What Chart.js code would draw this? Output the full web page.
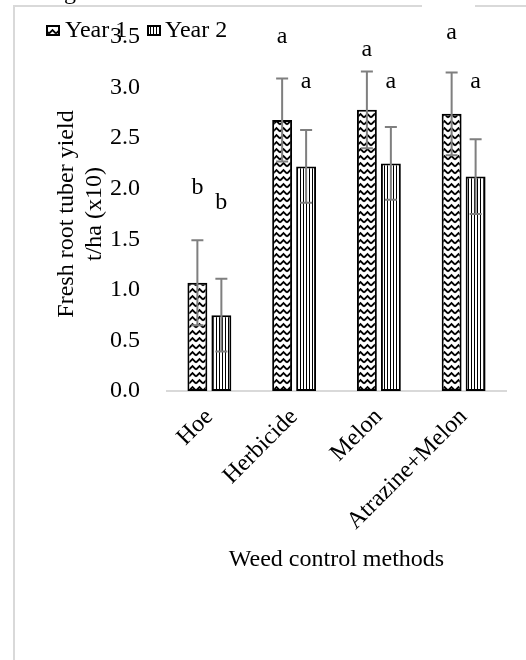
<!DOCTYPE html>
<html>
<head>
<meta charset="utf-8">
<script src="https://cdn.jsdelivr.net/npm/chart.js@4"></script>
<style>
  html, body { margin: 0; padding: 0; background: #fff; }
  #wrap { width: 526px; height: 660px; }
</style>
</head>
<body>
<div id="wrap"><canvas id="chart" width="526" height="660"></canvas></div>
<script>
// data
const methods = ["Hoe", "Herbicide", "Melon", "Atrazine+Melon"];
const seriesNames = ["Year 1", "Year 2"];
const year1 = [1.07, 2.68, 2.78, 2.74];
const year2 = [0.75, 2.22, 2.25, 2.12];
const year1Err = [0.42, 0.41, 0.38, 0.41];
const year2Err = [0.36, 0.36, 0.36, 0.37];
// significance letters and the height (in axis units) where they sit
const year1Letters = ["b", "a", "a", "a"];
const year2Letters = ["b", "a", "a", "a"];
const year1LetterY = [2.01, 3.50, 3.37, 3.54];
const year2LetterY = [1.86, 3.06, 3.06, 3.06];
const yTicks = [0, 0.5, 1, 1.5, 2, 2.5, 3, 3.5];

const SERIF = "'Liberation Serif', 'Times New Roman', serif";
const FS = 24;

function chevronPattern() {
    const c = document.createElement("canvas");
    c.width = 7; c.height = 7;
    const g = c.getContext("2d");
    g.fillStyle = "#fff";
    g.fillRect(0, 0, 7, 7);
    g.strokeStyle = "#000";
    g.lineWidth = 1.8;
    g.beginPath();
    g.moveTo(0, 5.5);
    g.lineTo(3.5, 2);
    g.lineTo(7, 5.5);
    g.stroke();
    return g.createPattern(c, "repeat");
}

function stripePattern() {
    const c = document.createElement("canvas");
    c.width = 3; c.height = 3;
    const g = c.getContext("2d");
    g.fillStyle = "#fff";
    g.fillRect(0, 0, 3, 3);
    g.fillStyle = "#000";
    g.fillRect(0, 0, 1, 3);
    return g.createPattern(c, "repeat");
}

const fills = [chevronPattern(), stripePattern()];

const errorBarsPlugin = {
    id: "errorBars",
    afterDatasetsDraw(chart) {
        const ctx = chart.ctx;
        const y = chart.scales.y;
        chart.data.datasets.forEach((ds, i) => {
            const meta = chart.getDatasetMeta(i);
            meta.data.forEach((bar, j) => {
                const v = ds.data[j], e = ds.err[j];
                const top = y.getPixelForValue(v + e);
                const bot = y.getPixelForValue(v - e);
                ctx.save();
                ctx.strokeStyle = "#7f7f7f";
                ctx.lineWidth = 2;
                ctx.beginPath();
                ctx.moveTo(bar.x, top); ctx.lineTo(bar.x, bot);
                ctx.moveTo(bar.x - 6, top); ctx.lineTo(bar.x + 6, top);
                ctx.moveTo(bar.x - 6, bot); ctx.lineTo(bar.x + 6, bot);
                ctx.stroke();
                // letters
                ctx.fillStyle = "#000";
                ctx.font = FS + "px " + SERIF;
                ctx.textAlign = "center";
                ctx.textBaseline = "middle";
                ctx.fillText(ds.letters[j], bar.x, y.getPixelForValue(ds.letterY[j]));
                ctx.restore();
            });
        });
    }
};

const decorPlugin = {
    id: "decor",
    afterDraw(chart) {
        const ctx = chart.ctx;
        ctx.save();
        // page frame
        ctx.strokeStyle = "#d9d9d9";
        ctx.lineWidth = 2;
        ctx.beginPath();
        ctx.moveTo(14, 660); ctx.lineTo(14, 6); ctx.lineTo(422, 6);
        ctx.moveTo(475, 6); ctx.lineTo(526, 6);
        ctx.stroke();
        // clipped caption above the frame
        ctx.fillStyle = "#000";
        ctx.font = FS + "px " + SERIF;
        ctx.textBaseline = "alphabetic";
        ctx.fillText("Figure 3.", 44, -1);
        // legend
        const items = [{ x: 46, tx: 65 }, { x: 147, tx: 165 }];
        chart.data.datasets.forEach((ds, i) => {
            const it = items[i];
            ctx.fillStyle = ds.backgroundColor;
            ctx.fillRect(it.x, 25, 14, 11);
            ctx.strokeStyle = "#000";
            ctx.lineWidth = 2;
            ctx.strokeRect(it.x + 1, 26, 12, 9);
            ctx.fillStyle = "#000";
            ctx.textAlign = "left";
            ctx.textBaseline = "middle";
            ctx.fillText(ds.label, it.tx, 31);
        });
        ctx.restore();
    }
};

new Chart(document.getElementById("chart"), {
    type: "bar",
    data: {
        labels: methods,
        datasets: [
            {
                label: seriesNames[0], data: year1, err: year1Err,
                letters: year1Letters, letterY: year1LetterY,
                backgroundColor: fills[0], borderColor: "#000", borderWidth: 2,
                categoryPercentage: 0.566, barPercentage: 0.83, borderSkipped: false
            },
            {
                label: seriesNames[1], data: year2, err: year2Err,
                letters: year2Letters, letterY: year2LetterY,
                backgroundColor: fills[1], borderColor: "#000", borderWidth: 2,
                categoryPercentage: 0.566, barPercentage: 0.83, borderSkipped: false
            }
        ]
    },
    options: {
        responsive: false,
        animation: false,
        layout: { padding: { left: 0, top: 37, right: 20, bottom: 0 } },
        plugins: { legend: { display: false }, tooltip: { enabled: false } },
        scales: {
            x: {
                grid: { display: false },
                border: { display: true, color: "#d9d9d9", width: 2 },
                ticks: {
                    color: "#000", font: { family: SERIF, size: FS },
                    maxRotation: 45, minRotation: 45, padding: 4
                },
                title: {
                    display: true, text: "Weed control methods", color: "#000",
                    font: { family: SERIF, size: FS }, padding: { top: 0, bottom: 86 }
                },
                afterFit(scale) { scale.height = 269; }
            },
            y: {
                min: 0, max: 3.5,
                grid: { display: false },
                border: { display: false },
                afterBuildTicks(scale) { scale.ticks = yTicks.map(v => ({ value: v })); },
                ticks: {
                    color: "#000", font: { family: SERIF, size: FS }, padding: 19,
                    callback: v => Number(v).toFixed(1)
                },
                title: {
                    display: true, text: ["Fresh root tuber yield", "t/ha (x10)"], color: "#000",
                    font: { family: SERIF, size: FS, lineHeight: 1.2 }, padding: { top: 52, bottom: 0 }
                },
                afterFit(scale) { scale.width = 167; }
            }
        }
    },
    plugins: [errorBarsPlugin, decorPlugin]
});
</script>
</body>
</html>
